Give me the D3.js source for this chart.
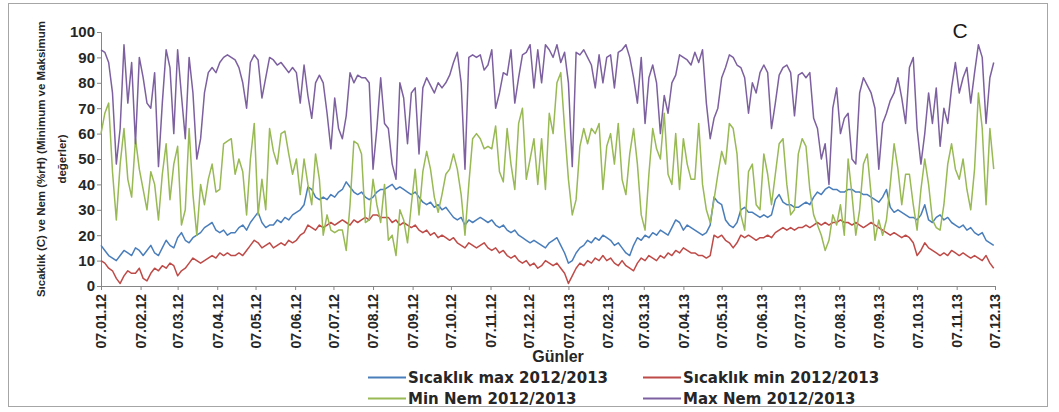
<!DOCTYPE html>
<html>
<head>
<meta charset="utf-8">
<script src="https://cdn.jsdelivr.net/npm/d3@7"></script>
<style>
  html, body { margin: 0; padding: 0; background: #fff; }
  svg { display: block; }
  text { font-family: "Liberation Sans", Arial, sans-serif; }
</style>
</head>
<body>
<svg id="chart" width="1059" height="412"></svg>
<script>
// Daily readings sampled every third day, starting 07.01.2012
const firstDay = "07.01.12";
const stepDays = 3;

const tickLabels = ["07.01.12","07.02.12","07.03.12","07.04.12","07.05.12","07.06.12",
  "07.07.12","07.08.12","07.09.12","07.10.12","07.11.12","07.12.12",
  "07.01.13","07.02.13","07.03.13","07.04.13","07.05.13","07.06.13",
  "07.07.13","07.08.13","07.09.13","07.10.13","07.11.13","07.12.13"];
const yTicks = [0,10,20,30,40,50,60,70,80,90,100];

const seriesNames = ["Sıcaklık max 2012/2013","Sıcaklık min 2012/2013","Min Nem 2012/2013","Max Nem 2012/2013"];
const seriesColors = ["#4a7ebb","#be4b48","#98b954","#7d60a0"];

// Sıcaklık max (°C)
const tempMax = [
  16,14,12,11,10,12,14,13,12,15, 14,12,14,16,13,12,15,18,16,15,
  19,21,18,17,19,20,21,23,24,25, 22,21,22,20,21,
  21,23,24,22,25,27,29,25,23,24, 24,26,25,27,26,28,29,30,32,39,
  38,35,34,35,34,36,35,37,38,41, 39,37,36,37,35,34,35,37,38,38,
  39,40,38,39,38,37,36,37,35,33, 32,33,31,32,30,31,29,27,26,27,
  24,26,25,26,27,26,25,26,24,23, 24,22,21,22,20,19,18,17,18,17,
  16,15,17,18,19,16,13,9,10,13, 15,16,18,17,19,18,20,19,18,16,
  17,15,13,12,16,19,18,20,19,21, 20,22,21,20,23,26,25,22,24,23,
  22,21,20,21,24,35,33,32,26,24, 23,25,30,31,29,29,28,27,28,27,
  28,34,36,33,32,32,31,31,32,33, 32,35,37,36,38,39,38,38,37,37,
  38,38,37,37,36,36,35,34,33,35, 38,31,29,30,29,28,27,27,26,28,
  32,26,25,27,28,26,27,25,24,23, 24,22,23,21,20,21,18,17,16
];

// Sıcaklık min (°C)
const tempMin = [
  10,9,7,6,3,1,4,6,5,5, 7,3,2,5,7,6,8,7,9,8,
  4,6,7,9,11,10,9,10,11,12, 11,13,12,13,12,
  12,13,12,14,16,18,17,15,16,17, 15,16,17,16,18,17,18,20,21,24,
  23,22,24,23,24,25,24,25,26,25, 24,26,25,26,27,26,28,28,27,27,
  27,25,26,24,25,24,23,24,22,21, 22,20,21,19,20,19,18,19,17,16,
  15,17,16,15,16,17,15,14,15,13, 14,12,11,12,10,9,10,8,9,7,
  8,10,9,8,9,7,5,1,4,7, 9,8,10,9,11,10,12,10,11,9,
  8,10,8,7,6,9,11,10,12,11, 10,12,11,13,12,14,13,15,14,13,
  13,12,12,11,12,20,19,20,18,17, 15,17,20,19,20,19,18,19,19,20,
  19,21,22,23,22,23,22,23,23,24, 23,24,25,24,25,24,25,25,26,25,
  25,24,25,24,23,24,25,24,23,22, 21,20,21,20,19,20,19,17,12,14,
  17,15,14,13,12,13,12,14,13,12, 13,12,11,12,11,10,12,9,7
];

// Min Nem (%rH)
const humMin = [
  60,68,72,45,26,48,62,42,35,58, 46,38,30,45,40,26,44,56,34,48,
  55,24,30,62,36,20,40,32,42,48, 37,38,56,57,58,
  44,50,45,28,50,64,28,42,30,62, 53,48,60,61,52,44,50,36,50,40,
  32,52,42,20,28,22,21,22,22,14, 32,57,56,52,25,26,42,32,25,40,
  18,20,12,30,26,17,32,46,28,45, 53,46,35,29,36,44,46,52,46,36,
  20,40,58,60,58,54,55,54,63,45, 41,62,48,38,64,70,42,50,58,40,
  58,38,68,60,80,84,62,42,28,34, 55,62,56,62,60,64,38,55,60,48,
  64,42,36,52,62,48,28,22,44,62, 54,50,68,44,40,60,38,58,48,42,
  42,64,40,30,25,34,44,53,48,64, 62,52,28,22,45,48,32,30,52,44,
  32,44,56,58,40,28,30,52,58,55, 38,28,24,20,14,18,28,24,32,20,
  50,36,20,30,48,52,36,18,26,20, 26,40,56,46,32,44,44,32,22,38,
  50,40,26,23,22,32,48,56,46,42, 50,38,30,46,76,62,32,62,46
];

// Max Nem (%rH)
const humMax = [
  93,92,88,76,48,62,95,72,88,56, 90,82,72,70,84,47,72,93,86,60,
  93,75,58,90,76,50,58,76,84,86, 84,88,90,91,90,
  89,86,80,70,88,91,89,74,82,90, 89,87,88,86,84,86,84,72,87,75,
  66,80,83,80,68,54,74,62,58,67, 84,80,83,82,82,80,46,62,82,64,
  62,48,42,80,74,56,76,78,52,78, 82,79,76,80,78,80,83,88,92,80,
  46,90,91,90,91,85,87,93,70,76, 84,83,93,72,82,91,92,95,78,93,
  80,95,93,90,95,88,92,80,47,92, 91,93,90,87,78,91,80,90,91,78,
  92,93,95,90,82,72,90,64,82,87, 80,60,75,68,80,83,91,90,89,87,
  92,88,93,72,58,66,70,82,86,91, 90,87,86,82,68,80,76,84,87,84,
  62,72,83,86,87,84,67,83,84,82, 84,66,62,50,56,40,70,78,60,66,
  68,50,48,76,82,79,76,70,46,64, 68,73,76,82,74,64,86,90,62,48,
  60,76,64,78,55,70,64,78,88,76, 82,86,72,84,95,90,64,82,88
];

const svg = d3.select("#chart");
const plot = { left: 101, right: 995, top: 32, bottom: 286 };
const fontFamily = "'Liberation Sans', Arial, sans-serif";
const legendFont = "'DejaVu Sans', Verdana, sans-serif";
const textColor = "#262626";

// chart frame
svg.append("rect")
  .attr("x", 8.5).attr("y", 3.5)
  .attr("width", 1039).attr("height", 403)
  .attr("fill", "#fff").attr("stroke", "#a6a6a6").attr("stroke-width", 1);

const parse = d3.timeParse("%d.%m.%y");
const fmt = d3.timeFormat("%d.%m.%y");
const start = parse(firstDay);
const tickDates = tickLabels.map(parse);

const x = d3.scaleTime()
  .domain([tickDates[0], tickDates[tickDates.length - 1]])
  .range([plot.left, plot.right]);
const y = d3.scaleLinear().domain([0, 100]).range([plot.bottom, plot.top]);

const dateAt = i => d3.timeDay.offset(start, i * stepDays);

// axes
const yAxis = svg.append("g")
  .attr("transform", `translate(${plot.left},0)`)
  .call(d3.axisLeft(y).tickValues(yTicks).tickSize(4).tickPadding(2));
yAxis.select(".domain").attr("stroke", "#868686");
yAxis.selectAll(".tick line").attr("stroke", "#868686");
yAxis.selectAll("text")
  .attr("font-size", 15).attr("font-weight", "bold").attr("fill", textColor)
  .style("font-family", fontFamily);

const xAxis = svg.append("g")
  .attr("transform", `translate(0,${plot.bottom})`)
  .call(d3.axisBottom(x).tickValues(tickDates).tickFormat(fmt).tickSize(4));
xAxis.select(".domain").attr("stroke", "#868686");
xAxis.selectAll(".tick line").attr("stroke", "#868686");
xAxis.selectAll("text")
  .attr("transform", "rotate(-90)")
  .attr("x", -8).attr("y", 0).attr("dy", "0.35em")
  .style("text-anchor", "end")
  .attr("font-size", 14).attr("font-weight", "bold").attr("fill", textColor)
  .style("font-family", fontFamily);

// series lines, drawn in legend order
const allSeries = [tempMax, tempMin, humMin, humMax];
const line = d3.line()
  .x((d, i) => x(dateAt(i)))
  .y(d => y(d));

allSeries.forEach((vals, k) => {
  svg.append("path")
    .datum(vals)
    .attr("fill", "none")
    .attr("stroke", seriesColors[k])
    .attr("stroke-width", 1.5)
    .attr("stroke-linejoin", "round")
    .attr("d", line);
});

// panel letter
svg.append("text")
  .attr("x", 960).attr("y", 38)
  .attr("text-anchor", "middle")
  .attr("font-size", 21).attr("fill", "#1a1a1a")
  .text("C");

// y-axis title
const yTitle = svg.append("text")
  .attr("transform", `translate(0,${(plot.top + plot.bottom) / 2}) rotate(-90)`)
  .attr("text-anchor", "middle")
  .attr("font-size", 11.5).attr("font-weight", "bold").attr("fill", textColor);
yTitle.append("tspan").attr("x", 0).attr("y", 45)
  .text("Sıcaklık (C) ve Nem (%rH) (Minimum ve Maksimum");
yTitle.append("tspan").attr("x", 0).attr("y", 66)
  .text("değerler)");

// x-axis title
svg.append("text")
  .attr("x", 558).attr("y", 362)
  .attr("text-anchor", "middle")
  .attr("font-size", 16).attr("font-weight", "bold").attr("fill", textColor)
  .text("Günler");

// legend: two columns, two rows
const legendPos = [[368, 383], [643, 383], [368, 404], [643, 404]];
seriesNames.forEach((name, k) => {
  const [lx, ly] = legendPos[k];
  svg.append("line")
    .attr("x1", lx).attr("x2", lx + 38)
    .attr("y1", ly - 5.5).attr("y2", ly - 5.5)
    .attr("stroke", seriesColors[k]).attr("stroke-width", 2);
  svg.append("text")
    .attr("x", lx + 40).attr("y", ly)
    .attr("font-size", 15).attr("font-weight", "bold").attr("fill", textColor)
    .style("font-family", legendFont)
    .text(name);
});
</script>
</body>
</html>
